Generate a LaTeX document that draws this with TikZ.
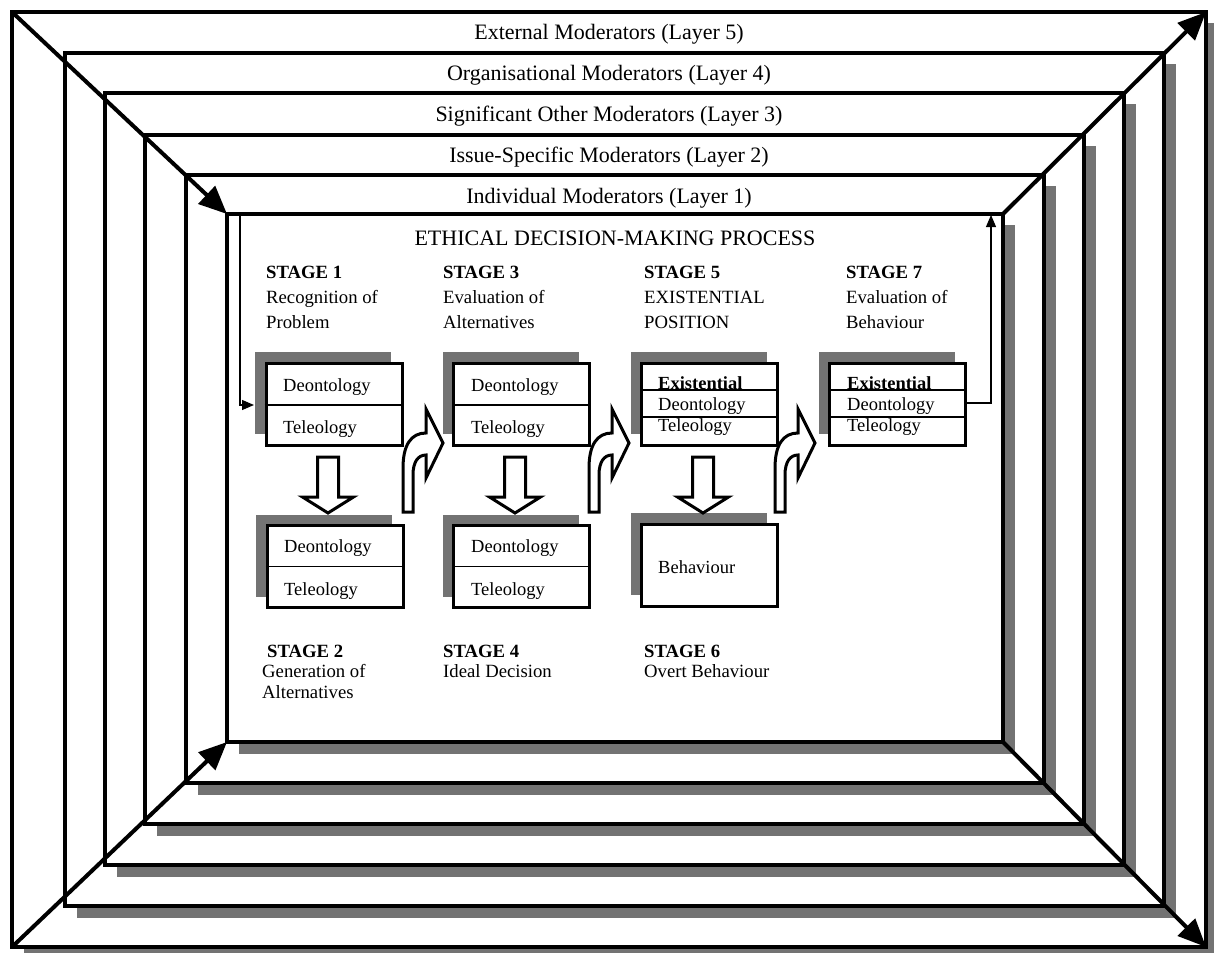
\documentclass[tikz,border=0pt]{standalone}
\usepackage{fontspec}
\setmainfont{Liberation Serif}
\usetikzlibrary{arrows.meta,shadows}
\definecolor{shadowgray}{gray}{0.45}
\begin{document}
\begin{tikzpicture}[x=1pt,y=-1pt,
  layer/.style={draw=black,line width=4pt,fill=white},
  diag/.style={line width=4pt,-{Triangle[length=28pt,width=24pt]}},
  lab/.style={font=\fontsize{22}{26}\selectfont,anchor=base,inner sep=0pt},
  stg/.style={font=\fontsize{18.7}{22}\selectfont,anchor=base west,inner sep=0pt},
  stgb/.style={stg,font=\fontsize{18.7}{22}\selectfont\bfseries},
  btxt/.style={font=\fontsize{18.5}{22}\selectfont,anchor=base west,inner sep=0pt},
  box/.style={draw=black,line width=3pt,fill=white,minimum width=136pt,minimum height=82pt,inner sep=0pt,
    general shadow={shadow xshift=-11pt,shadow yshift=11pt,fill=shadowgray}},
  divider/.style={line width=1.1pt},
  blockarr/.style={draw=black,line width=3pt,fill=white,line join=miter},
  thinarr/.style={line width=1.2pt,-{Triangle[length=12pt,width=10pt]}},
  downarrow/.pic={\draw[blockarr] (-10.5,0) -- (10.5,0) -- (10.5,40) -- (25.5,40) -- (0,56) -- (-25.5,40) -- (-10.5,40) -- cycle;},
  bentarrow/.pic={\draw[blockarr] (0,0) -- (0,-44) .. controls (0,-67) and (8,-79) .. (23,-79) -- (23,-103) -- (40,-69) -- (23,-34) -- (23,-57) .. controls (15,-57) and (10,-50) .. (10,-37) -- (10,0) -- cycle;}
]
\useasboundingbox (0,0) rectangle (1214,952);
% nested layers
\foreach \n/\l/\r/\t/\b in {5/12/1206/12/947, 4/65/1164/53/906, 3/105/1124/93/865, 2/145/1084/135/824, 1/186/1044/175/783, 0/227/1003/214/742}{
  \fill[shadowgray] (\l+12,\t+11) rectangle (\r+12,\b+12);
  \draw[layer] (\l,\t) rectangle (\r,\b);
  \coordinate (c\n-tl) at (\l,\t);
  \coordinate (c\n-tr) at (\r,\t);
  \coordinate (c\n-bl) at (\l,\b);
  \coordinate (c\n-br) at (\r,\b);
}
% corner arrows
\draw[diag] (c5-tl) -- (c0-tl);
\draw[diag] (c5-bl) -- (c0-bl);
\draw[diag] (c0-tr) -- (c5-tr);
\draw[diag] (c0-br) -- (c5-br);
% layer labels
\node[lab] (lab5) at (609,40) {External Moderators (Layer 5)};
\node[lab] (lab4) at (609,81) {Organisational Moderators (Layer 4)};
\node[lab] (lab3) at (609,122) {Significant Other Moderators (Layer 3)};
\node[lab] (lab2) at (609,163) {Issue-Specific Moderators (Layer 2)};
\node[lab] (lab1) at (609,203) {Individual Moderators (Layer 1)};
\node[lab] (title) at (615,245) {ETHICAL DECISION-MAKING PROCESS};
% stage labels (top)
\node[stgb] (s1a) at (266,278) {STAGE 1};
\node[stg] (s1b) at (266,303) {Recognition of};
\node[stg] (s1c) at (266,328) {Problem};
\node[stgb] (s3a) at (443,278) {STAGE 3};
\node[stg] (s3b) at (443,303) {Evaluation of};
\node[stg] (s3c) at (443,328) {Alternatives};
\node[stgb] (s5a) at (644,278) {STAGE 5};
\node[stg] (s5b) at (644,303) {EXISTENTIAL};
\node[stg] (s5c) at (644,328) {POSITION};
\node[stgb] (s7a) at (846,278) {STAGE 7};
\node[stg] (s7b) at (846,303) {Evaluation of};
\node[stg] (s7c) at (846,328) {Behaviour};
% stage labels (bottom)
\node[stgb] (s2a) at (267,657) {STAGE 2};
\node[stg] (s2b) at (262,677) {Generation of};
\node[stg] (s2c) at (262,698) {Alternatives};
\node[stgb] (s4a) at (443,657) {STAGE 4};
\node[stg] (s4b) at (443,677) {Ideal Decision};
\node[stgb] (s6a) at (644,657) {STAGE 6};
\node[stg] (s6b) at (644,677) {Overt Behaviour};
% boxes
\node[box] (b1) at (334,404) {};
\node[box] (b3) at (521.5,404) {};
\node[box] (b5) at (709.5,404) {};
\node[box] (b7) at (897.5,404) {};
\node[box] (b2) at (335,566.5) {};
\node[box] (b4) at (521.5,566.5) {};
\node[box] (b6) at (709.5,565) {};
% dividers
\draw[divider] ([yshift=-1pt]b1.west) -- ([yshift=-1pt]b1.east);
\draw[divider] ([yshift=-1pt]b3.west) -- ([yshift=-1pt]b3.east);
\draw[divider] (b2.west) -- (b2.east);
\draw[divider] (b4.west) -- (b4.east);
\draw[divider] ([yshift=14pt]b5.west) -- ([yshift=14pt]b5.east);
\draw[divider] ([yshift=-13pt]b5.west) -- ([yshift=-13pt]b5.east);
\draw[divider] ([yshift=14pt]b7.west) -- ([yshift=14pt]b7.east);
\draw[divider] ([yshift=-13pt]b7.west) -- ([yshift=-13pt]b7.east);
% box texts
\node[btxt] (t1a) at (283,391) {Deontology};
\node[btxt] (t1b) at (283,433) {Teleology};
\node[btxt] (t3a) at (471,391) {Deontology};
\node[btxt] (t3b) at (471,433) {Teleology};
\node[btxt] (t2a) at (284,552) {Deontology};
\node[btxt] (t2b) at (284,595) {Teleology};
\node[btxt] (t4a) at (471,552) {Deontology};
\node[btxt] (t4b) at (471,595) {Teleology};
\node[btxt,font=\fontsize{18.5}{22}\selectfont\bfseries] (t5a) at (658,389) {Existential};
\node[btxt] (t5b) at (658,410) {Deontology};
\node[btxt] (t5c) at (658,431) {Teleology};
\node[btxt,font=\fontsize{18.5}{22}\selectfont\bfseries] (t7a) at (847,389) {Existential};
\node[btxt] (t7b) at (847,410) {Deontology};
\node[btxt] (t7c) at (847,431) {Teleology};
\node[btxt] (t6a) at (658,573) {Behaviour};
% block arrows
\pic at (328,457) {downarrow};
\pic at (515,457) {downarrow};
\pic at (703,457) {downarrow};
\pic at (403,512) {bentarrow};
\pic at (589,512) {bentarrow};
\pic at (775,512) {bentarrow};
% feedback lines
\coordinate (fbstart) at (240,215);
\coordinate (fbend) at (254,405);
\draw[thinarr] (fbstart) |- (fbend);
\coordinate (fbtop) at (991,215);
\draw[thinarr] ([yshift=1pt]b7.east) -| (fbtop);
\end{tikzpicture}
\end{document}
